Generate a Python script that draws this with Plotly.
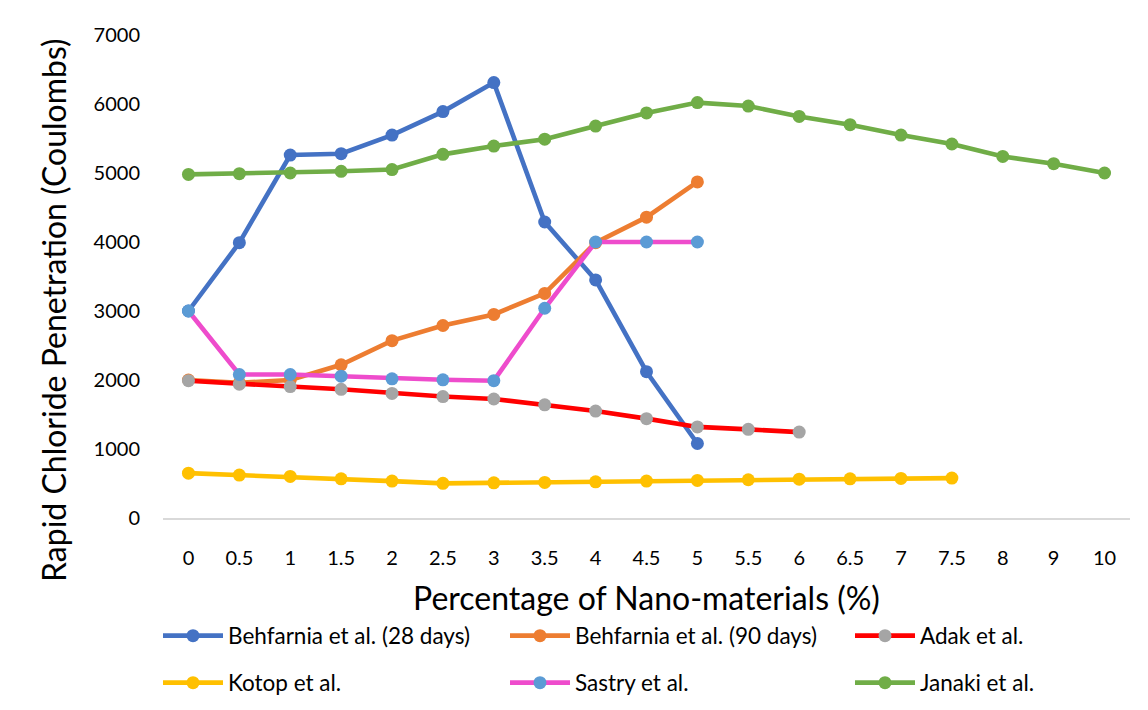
import plotly.graph_objects as go

categories = ["0", "0.5", "1", "1.5", "2", "2.5", "3", "3.5", "4", "4.5",
              "5", "5.5", "6", "6.5", "7", "7.5", "8", "9", "10"]

behfarnia_28 = [3000, 3990, 5260, 5280, 5550, 5890, 6310, 4290, 3450, 2120, 1080]
behfarnia_90 = [2000, 1960, 2000, 2220, 2570, 2790, 2950, 3255, 3990, 4360, 4870]
adak = [1990, 1940, 1905, 1865, 1805, 1760, 1725, 1640, 1550, 1440, 1320, 1285, 1245]
kotop = [650, 622, 603, 568, 535, 502, 510, 516, 525, 535, 545, 554, 562, 568, 573, 578]
sastry = [3000, 2080, 2080, 2055, 2017, 2003, 1990, 3040, 4000, 4000, 4000]
janaki = [4980, 4990, 5000, 5025, 5050, 5270, 5390, 5490, 5680, 5870, 6020, 5970,
          5820, 5700, 5550, 5420, 5240, 5135, 5000]

series_names = ["Behfarnia et al. (28 days)", "Behfarnia et al. (90 days)", "Adak et al.",
                "Kotop et al.", "Sastry et al.", "Janaki et al."]
series_values = [behfarnia_28, behfarnia_90, adak, kotop, sastry, janaki]
line_colors = ["#4472C4", "#ED7D31", "#FF0000", "#FFC000", "#EE4CCC", "#70AD47"]
marker_colors = ["#4472C4", "#ED7D31", "#A5A5A5", "#FFC000", "#5B9BD5", "#70AD47"]

y_title = "Rapid Chloride Penetration (Coulombs)"
x_title = "Percentage of Nano-materials (%)"

FONT = "Lato"
W, H = 1148, 710
ml, mr, mt, mb = 163, 18, 35, 192
pw = W - ml - mr
ph = H - mt - mb


def paper_x(px):
    return (px - ml) / pw


def paper_y(px):
    return (H - mb - px) / ph


# legend grid: 3 columns x 2 rows (left edge of each legend box, row centre)
legend_cols = [158, 505, 850]
legend_rows = [636, 683]

fig = go.Figure()
legend_layout = {}
for i, (name, vals, lc, mc) in enumerate(zip(series_names, series_values,
                                             line_colors, marker_colors)):
    key = "legend" if i == 0 else f"legend{i + 1}"
    fig.add_trace(go.Scatter(
        x=categories[:len(vals)], y=vals, name=name, mode="lines+markers",
        line=dict(color=lc, width=4.6),
        marker=dict(color=mc, size=13, line=dict(width=0)),
        legend=key,
    ))
    col, row = i % 3, i // 3
    legend_layout[key] = dict(
        orientation="h", xanchor="left", yanchor="middle",
        x=paper_x(legend_cols[col]), y=paper_y(legend_rows[row]),
        font=dict(family=FONT, size=22.5, color="#000000"),
        itemwidth=60, bgcolor="rgba(0,0,0,0)",
    )

fig.update_layout(
    width=W, height=H,
    margin=dict(l=ml, r=mr, t=mt, b=mb, autoexpand=False),
    paper_bgcolor="white", plot_bgcolor="white",
    font=dict(family=FONT, color="#000000"),
    showlegend=True,
    xaxis=dict(
        type="category", categoryorder="array", categoryarray=categories,
        range=[-0.5, len(categories) - 0.5],
        showgrid=False, zeroline=False,
        showline=True, linecolor="#D9D9D9", linewidth=1.5,
        ticks="", tickfont=dict(family=FONT, size=20, color="#000000"),
        ticklabelstandoff=21,
        title=dict(text=x_title,
                   font=dict(family=FONT, size=32, color="#000000"), standoff=20),
    ),
    yaxis=dict(
        range=[0, 7000], tickvals=[0, 1000, 2000, 3000, 4000, 5000, 6000, 7000],
        showgrid=False, zeroline=False, showline=False,
        ticks="", tickfont=dict(family=FONT, size=20, color="#000000"),
        ticklabelstandoff=22,
    ),
    annotations=[dict(
        text=y_title, textangle=-90, showarrow=False,
        xref="paper", yref="paper", x=paper_x(54), y=paper_y(310),
        xanchor="center", yanchor="middle",
        font=dict(family=FONT, size=32, color="#000000"),
    )],
    **legend_layout,
)

fig.write_html("out.html")
